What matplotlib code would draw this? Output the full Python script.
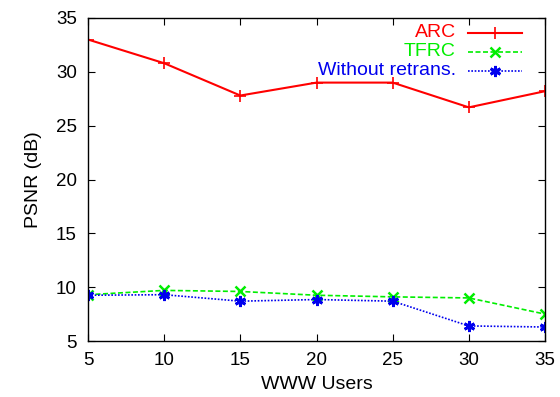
import matplotlib
matplotlib.use('Agg')
import matplotlib.pyplot as plt

plt.rcParams['font.family'] = ['Liberation Sans', 'DejaVu Sans']

users = [5, 10, 15, 20, 25, 30, 35]
arc = [33.0, 30.8, 27.8, 29.0, 29.0, 26.7, 28.2]
tfrc = [9.3, 9.7, 9.6, 9.25, 9.1, 9.0, 7.5]
no_retrans = [9.25, 9.3, 8.7, 8.85, 8.7, 6.4, 6.3]

fig = plt.figure(figsize=(5.6, 3.97), dpi=100)
ax = fig.add_axes([88 / 560, 1 - 341 / 397, (545 - 88) / 560, (341 - 18) / 397])

styles = [
    ('ARC', arc, dict(color='#ff0000', lw=1.5, ls='-', marker='+', ms=8, mew=1.2)),
    ('TFRC', tfrc, dict(color='#00ee00', lw=1.2, ls=(0, (3, 1.5)), marker='x', ms=7, mew=1.8)),
    ('Without retrans.', no_retrans, dict(color='#0000ee', lw=1.2, ls=(0, (1, 1)), marker=(6, 2, 0), ms=8, mew=2)),
]

for name, vals, kw in styles:
    ax.plot(users, vals, label=name, **kw)

ax.set_xlim(5, 35)
ax.set_ylim(5, 35)
ax.set_xticks(users)
ax.set_yticks(range(5, 36, 5))
ax.tick_params(direction='in', top=True, right=True, length=5, labelsize=13.5, pad=8)
for s in ax.spines.values():
    s.set_linewidth(1.0)

ax.set_xlabel('WWW Users', fontsize=14, labelpad=5)
ax.set_ylabel('PSNR (dB)', fontsize=14, labelpad=10)

# gnuplot-style key: right-aligned coloured labels with the sample to the right
key_y = [0.955, 0.896, 0.836]
for (name, vals, kw), ky in zip(styles, key_y):
    ax.text(0.805, ky, name, transform=ax.transAxes, ha='right', va='center',
            fontsize=14, color=kw['color'])
    line_kw = {k: v for k, v in kw.items() if k not in ('marker', 'ms', 'mew')}
    ax.plot([0.8315, 0.9497], [ky, ky], transform=ax.transAxes, clip_on=False, **line_kw)
    ax.plot([0.8906], [ky], transform=ax.transAxes, ls='none', color=kw['color'],
            marker=kw['marker'], ms=kw['ms'], mew=kw['mew'])

fig.savefig('out.png', dpi=100)
